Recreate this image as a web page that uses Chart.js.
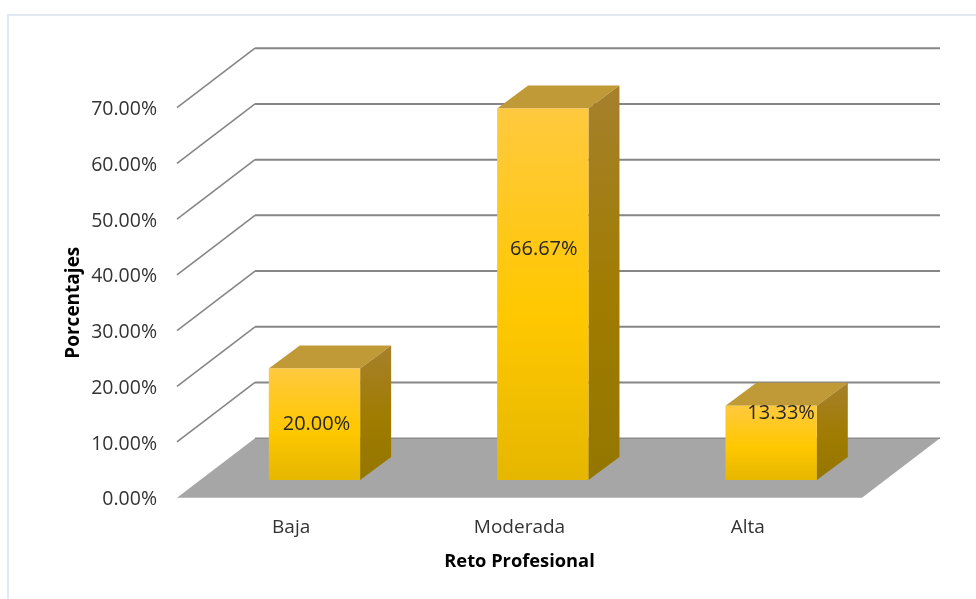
<!DOCTYPE html>
<html lang="es">
<head>
<meta charset="utf-8">
<title>Reto Profesional</title>
<script src="https://cdn.jsdelivr.net/npm/chart.js@4"></script>
<style>
  html, body { margin: 0; background: #fff; }
  #wrap { position: relative; width: 976px; height: 599px; overflow: hidden; }
  #marco { position: absolute; left: 7px; top: 14px; right: -4px; bottom: -4px; border-left: 2px solid #e3e7f0; border-top: 2px solid #e3e7f0; }
  canvas { position: absolute; left: 0; top: 0; }
</style>
</head>
<body>
<div id="wrap">
  <div id="marco"></div>
  <canvas id="retoChart" width="976" height="599"></canvas>
</div>
<script>
const categorias = ["Baja", "Moderada", "Alta"];
const porcentajes = [20.0, 66.67, 13.33];

/* ── Perspectiva ─────────────────────────────── */
const FONDO = { dx: 78, dy: -59.5 };     // del plano frontal a la pared
const BARRA_POS = { dx: 23.3, dy: -17.7 };  // plano frontal de las barras
const BARRA_PROF = { dx: 31, dy: -23 };  // profundidad de cada barra

// desplazamiento a mano de cada etiqueta respecto al centro de la barra
const ETIQUETA_OFFSET = [[2, 0], [1, -45], [10, -29.5]];

const FUENTE = "'Open Sans', sans-serif";
const fmt = (v) => v.toFixed(2) + "%";

function poly(ctx, pts, fill) {
  ctx.beginPath();
  pts.forEach((p, i) => (i ? ctx.lineTo(p[0], p[1]) : ctx.moveTo(p[0], p[1])));
  ctx.closePath();
  ctx.fillStyle = fill;
  ctx.fill();
}

function gradiente(ctx, top, bottom, stops) {
  const g = ctx.createLinearGradient(0, top, 0, bottom);
  stops.forEach((s) => g.addColorStop(s[0], s[1]));
  return g;
}

/* ── Paredes, piso y caras laterales ─────────── */
const caja3d = {
  id: "caja3d",
  beforeDatasetsDraw(chart) {
    const { ctx, chartArea: a, scales: { y } } = chart;
    ctx.save();

    ctx.strokeStyle = "#868686";
    y.ticks.forEach((t) => {
      const py = y.getPixelForValue(t.value);
      if (t.value === 0) return;
      ctx.lineWidth = 1.6;
      ctx.beginPath();
      ctx.moveTo(a.left, py);
      ctx.lineTo(a.left + FONDO.dx, py + FONDO.dy);
      ctx.stroke();
      ctx.lineWidth = 2;
      ctx.beginPath();
      ctx.moveTo(a.left + FONDO.dx, py + FONDO.dy);
      ctx.lineTo(a.right + FONDO.dx, py + FONDO.dy);
      ctx.stroke();
    });

    /* piso */
    const y0 = y.getPixelForValue(0);
    poly(ctx, [
      [a.left, y0],
      [a.left + FONDO.dx, y0 + FONDO.dy],
      [a.right + FONDO.dx, y0 + FONDO.dy],
      [a.right, y0],
    ], "#a6a6a6");
    ctx.strokeStyle = "#8c8c8c";
    ctx.lineWidth = 1.5;
    ctx.beginPath();
    ctx.moveTo(a.left + FONDO.dx, y0 + FONDO.dy);
    ctx.lineTo(a.right + FONDO.dx, y0 + FONDO.dy);
    ctx.stroke();

    /* las barras se dibujan en su propio plano, dentro del piso */
    ctx.translate(BARRA_POS.dx, BARRA_POS.dy);
    chart.getDatasetMeta(0).data.forEach((bar) => {
      const r = bar.x + bar.width / 2;
      const l = bar.x - bar.width / 2;
      const { dx, dy } = BARRA_PROF;
      poly(ctx, [[l, bar.y], [l + dx, bar.y + dy], [r + dx, bar.y + dy], [r, bar.y]], "#bf9a36");
      poly(ctx, [[r, bar.y], [r + dx, bar.y + dy], [r + dx, bar.base + dy], [r, bar.base]],
        gradiente(ctx, bar.y + dy, bar.base, [[0, "#a6802c"], [0.55, "#a07c00"], [1, "#947600"]]));
    });
  },
  afterDatasetsDraw(chart) {
    const { ctx } = chart;
    ctx.restore();

    /* ── Etiquetas de valor ── */
    ctx.save();
    ctx.font = "20px " + FUENTE;
    ctx.fillStyle = "#262626";
    ctx.textAlign = "center";
    ctx.textBaseline = "middle";
    chart.getDatasetMeta(0).data.forEach((bar, i) => {
      const cx = bar.x + BARRA_POS.dx + ETIQUETA_OFFSET[i][0];
      const cy = (bar.y + bar.base) / 2 + BARRA_POS.dy + ETIQUETA_OFFSET[i][1];
      ctx.fillText(fmt(porcentajes[i]), cx, cy);
    });
    ctx.restore();
  },
};

/* ── Chart ───────────────────────────────────── */
new Chart(document.getElementById("retoChart"), {
  type: "bar",
  data: {
    labels: categorias,
    datasets: [
      {
        data: porcentajes,
        clip: false,
        categoryPercentage: 1,
        barPercentage: 0.4,
        borderWidth: 0,
        backgroundColor: (c) => {
          const y = c.chart.scales.y;
          const top = y ? y.getPixelForValue(c.raw) : NaN;
          const bottom = y ? y.getPixelForValue(0) : NaN;
          if (!Number.isFinite(top) || !Number.isFinite(bottom)) return "#ffc800";
          return gradiente(c.chart.ctx, top, bottom,
            [[0, "#ffc93f"], [0.55, "#ffc800"], [1, "#e6b700"]]);
        },
      },
    ],
  },
  options: {
    responsive: false,
    animation: false,
    layout: { padding: { left: 0, top: 107.7, right: 114, bottom: 0 } },
    plugins: { legend: { display: false }, tooltip: { enabled: false } },
    scales: {
      y: {
        min: 0,
        max: 70,
        afterFit: (s) => { s.width = 177; },
        grid: { display: false, drawTicks: false },
        border: { display: false },
        ticks: {
          stepSize: 10,
          padding: 20,
          labelOffset: 2,
          color: "#333",
          font: { family: FUENTE, size: 19.5 },
          callback: (v) => fmt(v),
        },
        title: {
          display: true,
          text: "Porcentajes",
          color: "#000",
          font: { family: FUENTE, size: 19, weight: "bold" },
          padding: { top: 62, bottom: 0 },
        },
      },
      x: {
        afterFit: (s) => { s.height = 101.3; },
        grid: { display: false, drawTicks: false },
        border: { display: false },
        ticks: {
          padding: 18,
          maxRotation: 0,
          color: "#333",
          font: { family: FUENTE, size: 19 },
        },
        title: {
          display: true,
          text: "Reto Profesional",
          color: "#000",
          font: { family: FUENTE, size: 18.3, weight: "bold" },
          padding: { top: 0, bottom: 26 },
        },
      },
    },
  },
  plugins: [caja3d],
});
</script>
</body>
</html>
